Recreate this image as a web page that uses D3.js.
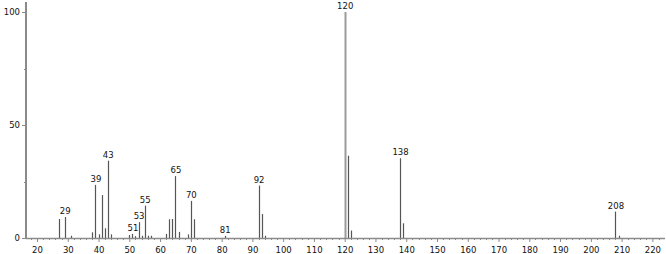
<!DOCTYPE html>
<html>
<head>
<meta charset="utf-8">
<script src="https://cdn.jsdelivr.net/npm/d3@7"></script>
<style>
  body { margin: 0; background: #fff; }
  svg { display: block; }
  text { font-family: "DejaVu Sans", Verdana, sans-serif; font-size: 8.5px; fill: #111; }
</style>
</head>
<body>
<svg width="666" height="254"></svg>
<script>
const width = 666;
const height = 254;

// m/z of each peak and its relative intensity (%)
const mz = [27, 29, 31, 38, 39, 40, 41, 42, 43, 44, 50, 51, 52, 53, 54, 55, 56, 57,
  62, 63, 64, 65, 66, 69, 70, 71, 81, 92, 93, 94, 120, 121, 122, 138, 139, 208, 209];
const intensity = [8.4, 9.3, 1, 2.5, 23.5, 1.6, 19, 4.3, 34.2, 1.6, 1.3, 1.8, 0.8, 7, 1, 14.3, 1, 1,
  1.8, 8.3, 8.4, 27.4, 2.7, 1.6, 16.4, 8.3, 0.9, 23.2, 10.6, 1, 100, 36.4, 3.3, 35.3, 6.5, 11.7, 1];
// peaks that carry a label
const labelled = [29, 39, 43, 51, 53, 55, 65, 70, 81, 92, 120, 138, 208];

const xMajor = d3.range(20, 221, 10);
const xMinor = d3.range(18, 223, 2).filter(v => v % 10 !== 0);
const yMajor = [0, 50, 100];
const yMinor = [25, 75];

const peaks = mz.map((m, i) => ({ m: m, v: intensity[i] }));

const x = d3.scaleLinear().domain([16.42, 224.1]).range([26, 665]);
const y = d3.scaleLinear().domain([0, 100]).range([238, 12]);

const svg = d3.select("svg");
const axisColor = "#8a8a8a";

// peaks
svg.append("g")
  .selectAll("line")
  .data(peaks)
  .enter()
  .append("line")
  .attr("x1", d => Math.round(x(d.m)) + 0.5)
  .attr("x2", d => Math.round(x(d.m)) + 0.5)
  .attr("y1", y(0))
  .attr("y2", d => y(d.v))
  .style("stroke", d => d.v === 100 ? "#9a9a9a" : "#555")
  .style("stroke-width", d => d.v === 100 ? 2 : 1.2);

// x axis: major ticks with labels, minor ticks every 2
const xAxis = svg.append("g").attr("transform", `translate(0,${y(0)})`);
xAxis.call(d3.axisBottom(x).tickValues(xMajor).tickSize(4).tickPadding(5)
  .tickFormat(d3.format("d")));
svg.append("g")
  .attr("transform", `translate(0,${y(0)})`)
  .selectAll("line")
  .data(xMinor)
  .enter()
  .append("line")
  .attr("x1", d => Math.round(x(d)) + 0.5)
  .attr("x2", d => Math.round(x(d)) + 0.5)
  .attr("y1", 0)
  .attr("y2", 2)
  .style("stroke", axisColor);

// y axis
const yAxis = svg.append("g").attr("transform", `translate(26,0)`);
yAxis.call(d3.axisLeft(y).tickValues(yMajor).tickSize(4).tickPadding(2)
  .tickFormat(d3.format("d")));
svg.append("g")
  .selectAll("line")
  .data(yMinor)
  .enter()
  .append("line")
  .attr("x1", 24)
  .attr("x2", 26)
  .attr("y1", d => Math.round(y(d)) + 0.5)
  .attr("y2", d => Math.round(y(d)) + 0.5)
  .style("stroke", axisColor);

// axis styling
svg.selectAll(".domain").remove();
svg.selectAll(".tick line").style("stroke", axisColor);
svg.selectAll(".tick text").style("font-family", "DejaVu Sans, sans-serif")
  .style("font-size", "8.5px").style("fill", "#111");

svg.append("line")
  .attr("x1", 26).attr("x2", 665)
  .attr("y1", y(0) + 0.5).attr("y2", y(0) + 0.5)
  .style("stroke", axisColor).style("stroke-width", 1.5);
svg.append("line")
  .attr("x1", 26).attr("x2", 26)
  .attr("y1", 2).attr("y2", y(0) + 1)
  .style("stroke", axisColor).style("stroke-width", 2);

// peak labels
svg.append("g")
  .selectAll("text")
  .data(peaks.filter(d => labelled.includes(d.m)))
  .enter()
  .append("text")
  .attr("x", d => x(d.m) + 0.5)
  .attr("y", d => y(d.v) - 3)
  .attr("text-anchor", "middle")
  .text(d => d.m);
</script>
</body>
</html>
